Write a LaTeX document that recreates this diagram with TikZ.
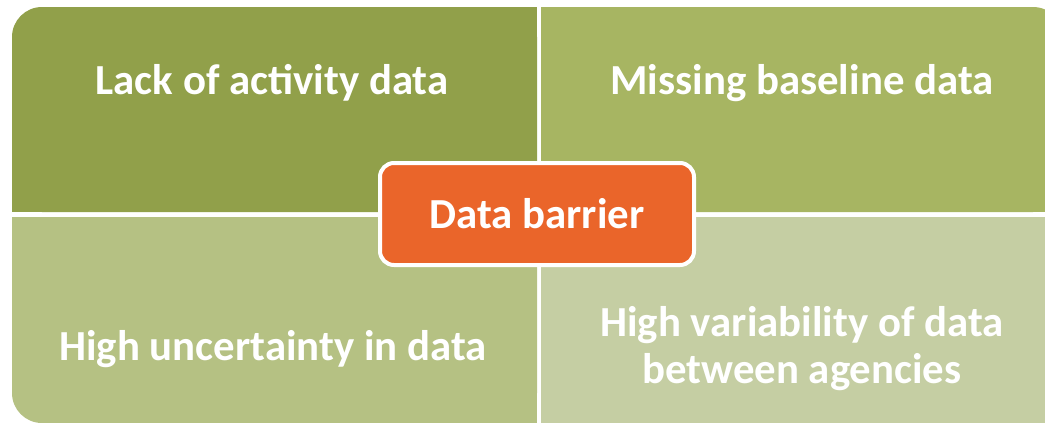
\documentclass[tikz,border=0pt]{standalone}
\usepackage{fontspec}
\setmainfont{Carlito}
\definecolor{qTL}{RGB}{145,160,74}
\definecolor{qTR}{RGB}{167,181,98}
\definecolor{qBL}{RGB}{181,193,131}
\definecolor{qBR}{RGB}{197,206,163}
\definecolor{barrier}{RGB}{234,101,42}
\tikzset{
  qtext/.style={text=white, font=\bfseries\fontsize{43}{47}\selectfont, inner sep=0pt, align=center, anchor=base},
  hub/.style={draw=white, line width=4bp, fill=barrier, rounded corners=14bp, minimum width=314bp, minimum height=102bp, inner sep=0pt, text=white, font=\bfseries\fontsize{43}{47}\selectfont}
}
\begin{document}
\begin{tikzpicture}[x=1bp,y=-1bp]
\useasboundingbox (0,0) rectangle (1045,422);
\begin{scope}
\clip (0,0) rectangle (1045,422);
% top left
\fill[qTL, rounded corners=30bp] (12,7) rectangle (537,212);
\fill[qTL] (12,60) rectangle (537,212);
\fill[qTL] (60,7) rectangle (537,212);
% top right
\fill[qTR, rounded corners=30bp] (541,7) rectangle (1063,212);
\fill[qTR] (541,60) rectangle (1063,212);
\fill[qTR] (541,7) rectangle (1000,212);
% bottom left
\fill[qBL, rounded corners=30bp] (12,217) rectangle (537,423);
\fill[qBL] (12,217) rectangle (537,370);
\fill[qBL] (60,217) rectangle (537,423);
% bottom right
\fill[qBR] (541,217) rectangle (1060,430);
\end{scope}
\node[qtext] (lack) at (272,94) {Lack of activity data};
\node[qtext] (missing) at (802,94) {Missing baseline data};
\node[qtext] (uncert) at (273,360) {High uncertainty in data};
\node[qtext] (variab) at (802,383) {High variability of data\\between agencies};
\node[hub] (barrier) at (537,214) {Data barrier};
\end{tikzpicture}
\end{document}
